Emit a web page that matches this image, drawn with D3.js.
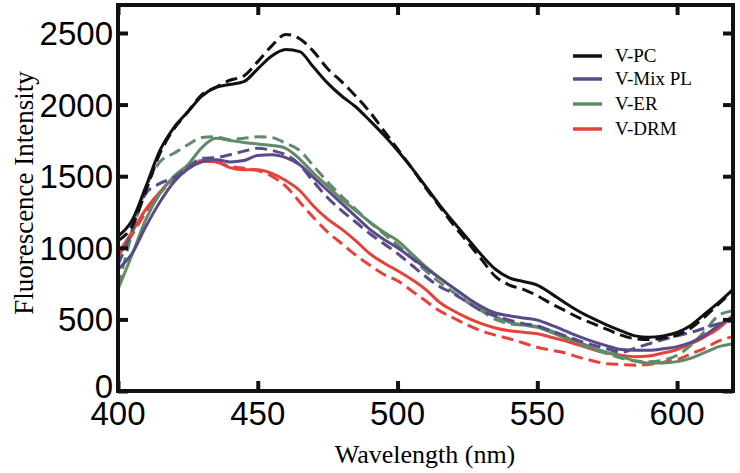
<!DOCTYPE html>
<html><head><meta charset="utf-8">
<script src="https://cdn.jsdelivr.net/npm/d3@7"></script>
<style>html,body{margin:0;padding:0;background:#fff;}svg{display:block;}</style>
</head><body>
<svg id="chart" width="740" height="473"></svg>
<script>
const wavelengths = d3.range(400, 621, 5);
const pcSolid = [1080,1190,1430,1680,1840,1950,2060,2120,2140,2160,2250,2340,2385,2370,2260,2150,2060,1985,1890,1790,1680,1560,1430,1300,1180,1065,950,850,790,765,740,680,615,555,505,460,420,385,375,385,410,460,540,620,710];
const pcDash = [1050,1150,1400,1660,1830,1950,2070,2120,2170,2200,2300,2410,2490,2460,2370,2250,2160,2060,1950,1820,1690,1560,1420,1290,1160,1040,920,800,740,710,665,610,560,510,470,430,390,365,360,370,390,440,520,610,700];
const mixSolid = [850,960,1150,1320,1460,1550,1600,1615,1600,1610,1645,1650,1630,1580,1490,1400,1310,1220,1130,1060,1000,930,860,790,720,650,590,545,525,510,495,460,420,380,345,315,290,285,285,295,310,340,390,460,520];
const mixDash = [880,1120,1380,1450,1490,1560,1625,1630,1650,1675,1695,1680,1650,1580,1460,1350,1260,1180,1100,1030,960,880,800,730,680,620,560,525,495,470,455,420,385,350,320,295,270,300,330,360,385,410,440,470,490];
const erSolid = [710,950,1200,1380,1500,1580,1700,1765,1750,1735,1725,1715,1695,1620,1520,1430,1340,1260,1180,1110,1050,960,870,790,720,650,580,520,480,460,445,410,370,340,300,270,240,210,195,195,205,230,270,310,330];
const erDash = [730,1100,1420,1600,1660,1720,1770,1775,1755,1765,1775,1770,1730,1680,1570,1460,1360,1270,1180,1100,1020,930,840,760,690,620,560,500,470,460,450,420,380,330,290,260,230,210,205,215,250,320,420,530,560];
const drmSolid = [960,1110,1270,1390,1490,1560,1605,1600,1560,1545,1545,1520,1470,1400,1290,1200,1130,1050,960,895,840,780,710,620,560,510,470,440,420,410,400,375,350,320,290,265,250,240,245,265,290,330,380,440,530];
const drmDash = [940,1090,1250,1380,1480,1560,1610,1600,1570,1555,1540,1500,1430,1320,1210,1110,1030,950,880,815,770,700,630,560,510,460,420,390,365,335,305,285,265,235,210,190,185,180,185,200,220,260,300,350,380];

const seriesNames = ["V-PC","V-Mix PL","V-ER","V-DRM"];
const seriesColors = ["#111111","#5a4a8a","#5f8b66","#e4433a"];
const xTicks = [400,450,500,550,600];
const yTicks = [0,500,1000,1500,2000,2500];

const solidSets = [pcSolid, mixSolid, erSolid, drmSolid];
const dashSets = [pcDash, mixDash, erDash, drmDash];

const svg = d3.select("#chart");
const L = 118, R = 733, T = 5, B = 391;
const x = d3.scaleLinear().domain([400, 620]).range([L, R]);
const y = d3.scaleLinear().domain([0, 2500]).range([B, 33]);

const line = d3.line().x((d,i)=>x(wavelengths[i])).y(d=>y(d)).curve(d3.curveMonotoneX);

const plot = svg.append("g");
[3,2,1,0].forEach(k => {
  plot.append("path").attr("d", line(dashSets[k])).attr("fill","none")
    .attr("stroke", seriesColors[k]).attr("stroke-width", 3).attr("stroke-dasharray","12,6");
  plot.append("path").attr("d", line(solidSets[k])).attr("fill","none")
    .attr("stroke", seriesColors[k]).attr("stroke-width", 3);
});

svg.append("rect").attr("x", L).attr("y", T).attr("width", R-L).attr("height", B-T)
  .attr("fill","none").attr("stroke","#111").attr("stroke-width",4);

const tickFont = "Liberation Sans, Arial, sans-serif";
const yAxis = svg.append("g").attr("transform", `translate(${L},0)`)
  .call(d3.axisRight(y).tickValues(yTicks).tickSize(10).tickFormat(""));
const yAxisR = svg.append("g").attr("transform", `translate(${R},0)`)
  .call(d3.axisLeft(y).tickValues(yTicks).tickSize(10).tickFormat(""));
const xAxis = svg.append("g").attr("transform", `translate(0,${B})`)
  .call(d3.axisTop(x).tickValues(xTicks).tickSize(10).tickFormat(""));
const xAxisT = svg.append("g").attr("transform", `translate(0,${T})`)
  .call(d3.axisBottom(x).tickValues(xTicks).tickSize(10).tickFormat(""));
[yAxis,yAxisR,xAxis,xAxisT].forEach(a => {
  a.select(".domain").remove();
  a.selectAll(".tick line").attr("stroke","#111").attr("stroke-width",4);
});

svg.append("g").selectAll("text").data(yTicks).join("text")
  .attr("x", 113).attr("y", d => y(d) + (d === 0 ? 7 : 12))
  .attr("text-anchor","end").attr("font-family", tickFont).attr("font-size", 33)
  .attr("fill","#000").text(d => d);
svg.append("g").selectAll("text").data(xTicks).join("text")
  .attr("x", d => x(d)).attr("y", 425)
  .attr("text-anchor","middle").attr("font-family", tickFont).attr("font-size", 33)
  .attr("fill","#000").text(d => d);

svg.append("text").attr("x", 425).attr("y", 463).attr("text-anchor","middle")
  .attr("font-family","Liberation Serif, Times New Roman, serif").attr("font-size", 26)
  .text("Wavelength (nm)");
svg.append("text").attr("transform","translate(24,193) rotate(-90)").attr("text-anchor","middle")
  .attr("dy","0.35em")
  .attr("font-family","Liberation Serif, Times New Roman, serif").attr("font-size", 27)
  .text("Fluorescence Intensity");

const lg = svg.append("g");
const legendY = [56, 79, 104, 129];
seriesNames.forEach((n,i) => {
  lg.append("line").attr("x1",573).attr("x2",602).attr("y1",legendY[i]).attr("y2",legendY[i])
    .attr("stroke", seriesColors[i]).attr("stroke-width",3.5);
  lg.append("text").attr("x",615).attr("y",legendY[i]+6)
    .attr("font-family","Liberation Serif, Times New Roman, serif").attr("font-size",19)
    .text(n);
});
</script>
</body></html>
